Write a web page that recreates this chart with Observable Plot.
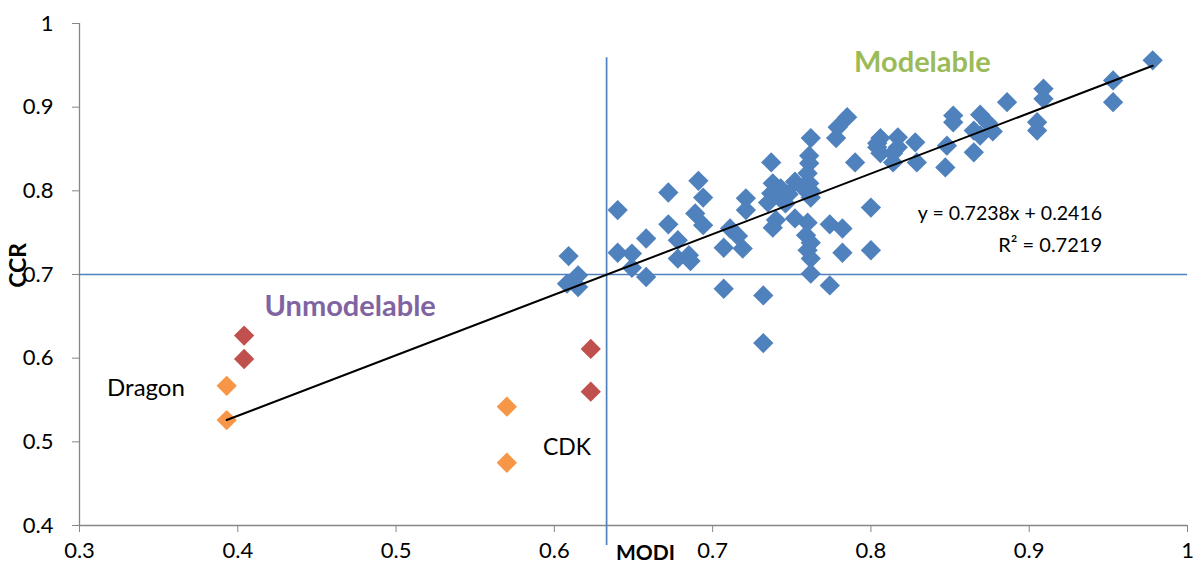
<!DOCTYPE html>
<html>
<head>
<meta charset="utf-8">
<script src="https://cdn.jsdelivr.net/npm/d3@7"></script>
<script src="https://cdn.jsdelivr.net/npm/@observablehq/plot@0.6"></script>
<style>
  html, body { margin: 0; padding: 0; background: #fff; }
  svg { font-family: Lato, "Open Sans", sans-serif; overflow: visible; }
</style>
</head>
<body>
<div id="chart"></div>
<script>
// Modelable / main set (blue): MODI, CCR
const blueModi = [0.609,0.615,0.608,0.615,0.640,0.640,0.649,0.649,0.658,0.658,
  0.672,0.672,0.678,0.678,0.685,0.686,0.691,0.694,0.689,0.694,
  0.707,0.707,0.711,0.716,0.719,0.721,0.721,0.732,0.732,0.737,
  0.738,0.743,0.752,0.757,0.737,0.748,0.762,0.735,0.744,0.746,
  0.762,0.761,0.740,0.738,0.752,0.760,0.759,0.762,0.760,0.762,
  0.762,0.761,0.761,0.760,0.762,0.774,0.782,0.782,0.774,0.778,
  0.779,0.785,0.790,0.800,0.800,0.804,0.806,0.804,0.806,0.817,
  0.817,0.814,0.828,0.814,0.829,0.848,0.847,0.852,0.852,0.865,
  0.869,0.874,0.865,0.877,0.869,0.886,0.905,0.905,0.909,0.909,
  0.953,0.953,0.978];
const blueCcr = [0.722,0.699,0.689,0.685,0.777,0.726,0.725,0.708,0.743,0.697,
  0.798,0.760,0.741,0.719,0.723,0.716,0.812,0.792,0.773,0.759,
  0.683,0.732,0.755,0.746,0.731,0.791,0.777,0.675,0.618,0.834,
  0.809,0.803,0.811,0.804,0.797,0.796,0.800,0.786,0.789,0.785,
  0.792,0.809,0.765,0.756,0.767,0.762,0.747,0.738,0.729,0.719,
  0.701,0.842,0.833,0.821,0.863,0.760,0.755,0.726,0.687,0.863,
  0.876,0.888,0.834,0.780,0.729,0.857,0.863,0.852,0.845,0.864,
  0.852,0.845,0.858,0.834,0.834,0.854,0.828,0.890,0.882,0.846,
  0.891,0.881,0.872,0.871,0.866,0.906,0.882,0.872,0.922,0.910,
  0.932,0.906,0.956];
// Unmodelable (red)
const redModi = [0.404,0.404,0.623,0.623];
const redCcr  = [0.627,0.599,0.611,0.560];
// Dragon / CDK (orange)
const orangeModi = [0.393,0.393,0.570,0.570];
const orangeCcr  = [0.526,0.567,0.542,0.475];
// Trend line coefficients
const slope = 0.7238, intercept = 0.2416;
const r2 = 0.7219;
// Thresholds
const modiCut = 0.633, ccrCut = 0.7;
const xTicks = [0.3,0.4,0.5,0.6,0.7,0.8,0.9,1];
const yTicks = [0.4,0.5,0.6,0.7,0.8,0.9,1];
// Annotations (data coordinates)
const annText = ["Modelable","Unmodelable","Dragon","CDK"];
const annX = [0.8325,0.471,0.342,0.608];
const annY = [0.953,0.661,0.564,0.493];

const toPts = (xs, ys) => xs.map((x, i) => ({x, y: ys[i]}));
const blue = toPts(blueModi, blueCcr);
const red = toPts(redModi, redCcr);
const orange = toPts(orangeModi, orangeCcr);
const allX = blueModi.concat(redModi, orangeModi);
const xmin = d3.min(allX), xmax = d3.max(allX);
const trend = [xmin, xmax].map(x => ({x, y: slope * x + intercept}));
const fmt = d3.format(".1~f");

const dotOpts = (fill) => ({x: "x", y: "y", symbol: "square", rotate: 45, r: 8.1, fill, stroke: "none"});

const chart = Plot.plot({
  width: 1198,
  height: 571,
  marginLeft: 79,
  marginRight: 11,
  marginTop: 23,
  marginBottom: 46,
  x: {domain: [0.3, 1]},
  y: {domain: [0.4, 1]},
  style: {fontFamily: "Lato, 'Open Sans', sans-serif", fontSize: "22px", background: "#fff", overflow: "visible"},
  marks: [
    Plot.axisX({ticks: xTicks, tickFormat: fmt, tickSize: 7, tickPadding: 10, stroke: "#868686", fill: "#000", label: null}),
    Plot.axisY({ticks: yTicks, tickFormat: fmt, tickSize: 7, tickPadding: 19, stroke: "#868686", fill: "#000", label: null}),
    Plot.ruleX([0.3], {stroke: "#868686", strokeWidth: 1.3}),
    Plot.ruleY([0.4], {stroke: "#868686", strokeWidth: 1.3}),
    Plot.ruleY([ccrCut], {stroke: "#4F81BD", strokeWidth: 1.7}),
    Plot.ruleX([modiCut], {y1: 0.376, y2: 0.959, stroke: "#4F81BD", strokeWidth: 1.7}),
    Plot.dot(blue, dotOpts("#4F81BD")),
    Plot.dot(red, dotOpts("#C0504D")),
    Plot.dot(orange, dotOpts("#F79646")),
    Plot.line(trend, {x: "x", y: "y", stroke: "#000", strokeWidth: 2}),
    Plot.text([annText[0]], {x: annX[0], y: annY[0], text: d => d, fill: "#9BBB59", fontSize: 29, fontWeight: "bold"}),
    Plot.text([annText[1]], {x: annX[1], y: annY[1], text: d => d, fill: "#8064A2", fontSize: 29, fontWeight: "bold"}),
    Plot.text([annText[2]], {x: annX[2], y: annY[2], text: d => d, fill: "#000", fontSize: 24}),
    Plot.text([annText[3]], {x: annX[3], y: annY[3], text: d => d, fill: "#000", fontSize: 23}),
    Plot.text([`y = ${slope}x + ${intercept}`], {x: 0.946, y: 0.773, text: d => d, textAnchor: "end", fill: "#000", fontSize: 19.5}),
    Plot.text([`R² = ${r2}`], {x: 0.946, y: 0.735, text: d => d, textAnchor: "end", fill: "#000", fontSize: 20}),
    Plot.text(["MODI"], {x: 0.6576, y: 0.4, dy: 28, text: d => d, fill: "#000", fontSize: 21, fontWeight: "bold"}),
    Plot.text(["CCR"], {x: 0.3, y: 0.711, dx: -61, text: d => d, rotate: -90, fill: "#000", fontSize: 23, fontWeight: "bold"})
  ]
});
document.getElementById("chart").appendChild(chart);
</script>
</body>
</html>
